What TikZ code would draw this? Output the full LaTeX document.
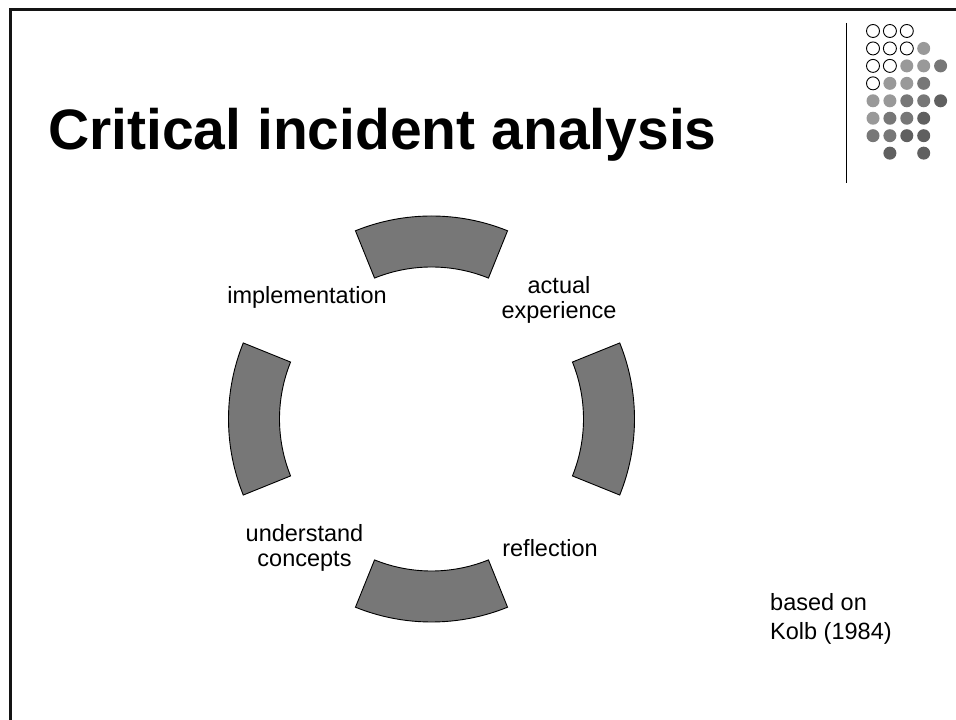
\documentclass[tikz,border=0pt]{standalone}
\usepackage{fontspec}
\setmainfont{Liberation Sans}
\usepackage{tikz}
\usetikzlibrary{positioning}

\definecolor{ringgray}{RGB}{119,119,119}
\definecolor{dotpale}{RGB}{153,153,153}
\definecolor{dotmid}{RGB}{119,119,119}
\definecolor{dotdeep}{RGB}{96,96,96}

\begin{document}
\begin{tikzpicture}[x=1pt,y=1pt]
  \tikzstyle{seg}=[fill=ringgray, draw=black, line width=0.9pt]
  \tikzstyle{lbl}=[inner sep=0pt, align=center, font=\fontsize{23.5}{25.5}\selectfont]
  \tikzstyle{hollow}=[draw=black, fill=white, line width=0.9pt]
  \tikzstyle{pale}=[fill=dotpale]
  \tikzstyle{midtone}=[fill=dotmid]
  \tikzstyle{deep}=[fill=dotdeep]
  \useasboundingbox (0,0) rectangle (956,720);
  % slide frame (only top and left edge show)
  \draw[line width=3pt, black!92] (10.5,-10) -- (10.5,710.5) -- (970,710.5);
  % corner ornament: rule plus dot grid
  \draw[line width=1pt] (846,697) -- (846,537);
  \foreach \c/\r/\s in {0/0/hollow, 1/0/hollow, 2/0/hollow,
                        0/1/hollow, 1/1/hollow, 2/1/hollow, 3/1/pale,
                        0/2/hollow, 1/2/hollow, 2/2/pale, 3/2/pale, 4/2/midtone,
                        0/3/hollow, 1/3/pale, 2/3/pale, 3/3/midtone,
                        0/4/pale, 1/4/pale, 2/4/midtone, 3/4/midtone, 4/4/deep,
                        0/5/pale, 1/5/midtone, 2/5/midtone, 3/5/deep,
                        0/6/midtone, 1/6/midtone, 2/6/deep, 3/6/deep,
                        1/7/deep, 3/7/deep}
    \path[\s] ({873+16.9*\c},{689-17.45*\r}) circle (6.5);
  % title
  \node[anchor=base west, inner sep=0pt, font=\fontsize{57}{60}\bfseries\selectfont] (title) at (48,570) {Critical incident analysis};
  % the four ring segments
  \begin{scope}[shift={(431.5,301)}]
    \foreach \a in {90,0,270,180}
      \draw[seg] ({\a-22}:203) arc[start angle=\a-22, end angle=\a+22, radius=203]
        -- ({\a+22}:152) arc[start angle=\a+22, end angle=\a-22, radius=152] -- cycle;
  \end{scope}
  % cycle stages
  \node[lbl, anchor=base] (impl) at (307,416) {implementation};
  \node[lbl] (actual) at (559,420) {actual\\experience};
  \node[lbl, anchor=base] (refl) at (550,163) {reflection};
  \node[lbl] (concepts) at (304.5,172) {understand\\concepts};
  % source
  \node[anchor=north west, inner sep=0pt, align=left, font=\fontsize{23.5}{29}\selectfont] (source) at (770,127) {based on\\Kolb (1984)};
\end{tikzpicture}
\end{document}
